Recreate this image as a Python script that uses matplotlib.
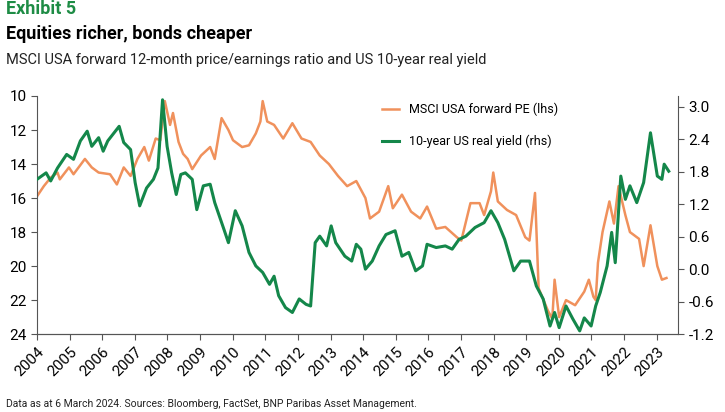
import matplotlib
matplotlib.use("Agg")
import matplotlib.pyplot as plt

plt.rcParams['font.family'] = ['Liberation Sans Narrow', 'Roboto', 'DejaVu Sans']

# MSCI USA forward PE (lhs, inverted)
pe_t = [2004.0, 2004.21, 2004.42, 2004.63, 2004.70, 2004.98, 2005.12, 2005.47, 2005.68, 2005.89,
        2006.24, 2006.45, 2006.66, 2006.87, 2007.08, 2007.29, 2007.43, 2007.64, 2007.78, 2007.92,
        2008.08, 2008.17, 2008.34, 2008.48, 2008.62, 2008.76, 2009.03, 2009.31, 2009.45, 2009.66,
        2009.87, 2010.01, 2010.29, 2010.50, 2010.71, 2010.85, 2010.92, 2011.06, 2011.27, 2011.55,
        2011.83, 2012.11, 2012.39, 2012.67, 2012.95, 2013.23, 2013.51, 2013.79, 2014.07, 2014.21,
        2014.49, 2014.77, 2014.91, 2015.19, 2015.47, 2015.75, 2015.96, 2016.24, 2016.52, 2016.87,
        2017.01, 2017.29, 2017.57, 2017.71, 2017.92, 2017.99, 2018.13, 2018.41, 2018.69, 2018.97,
        2019.10, 2019.27, 2019.38, 2019.66, 2019.80, 2019.87, 2020.01, 2020.22, 2020.50, 2020.78,
        2020.92, 2021.06, 2021.13, 2021.20, 2021.34, 2021.55, 2021.69, 2021.83, 2022.04, 2022.18,
        2022.46, 2022.60, 2022.81, 2023.02, 2023.16, 2023.30]
pe = [15.9, 15.3, 14.8, 14.5, 14.9, 14.2, 14.6, 13.7, 14.2, 14.5,
      14.6, 15.2, 14.2, 14.7, 13.7, 13.0, 13.8, 12.5, 12.6, 10.3,
      11.7, 11.0, 12.7, 13.4, 13.7, 14.3, 13.5, 13.0, 13.7, 11.3,
      12.0, 12.6, 13.0, 12.9, 12.2, 11.5, 10.3, 11.5, 11.7, 12.5,
      11.6, 12.5, 12.7, 13.5, 14.0, 14.7, 15.3, 15.0, 16.0, 17.2,
      16.8, 15.3, 16.6, 15.8, 16.8, 17.2, 16.5, 17.8, 17.7, 18.3,
      18.5, 16.3, 16.3, 17.0, 15.6, 14.5, 16.2, 16.7, 17.0, 18.3,
      18.5, 15.7, 21.3, 22.6, 23.1, 20.8, 23.0, 22.0, 22.3, 21.5,
      20.8, 21.8, 22.0, 19.8, 18.0, 16.2, 17.5, 15.3, 17.0, 18.0,
      18.4, 20.0, 17.6, 20.0, 20.8, 20.7]

# 10-year US real yield (rhs)
ry_t = [2004.00, 2004.28, 2004.42, 2004.63, 2004.91, 2005.12, 2005.33, 2005.54, 2005.68, 2005.89,
        2006.03, 2006.17, 2006.52, 2006.66, 2006.87, 2007.01, 2007.15, 2007.36, 2007.57, 2007.71,
        2007.85, 2007.99, 2008.13, 2008.27, 2008.41, 2008.55, 2008.76, 2008.90, 2009.10, 2009.31,
        2009.45, 2009.73, 2009.87, 2010.08, 2010.29, 2010.50, 2010.71, 2010.92, 2011.13, 2011.27,
        2011.41, 2011.62, 2011.83, 2012.04, 2012.25, 2012.39, 2012.53, 2012.67, 2012.88, 2013.02,
        2013.16, 2013.44, 2013.65, 2013.79, 2013.93, 2014.07, 2014.28, 2014.49, 2014.70, 2014.98,
        2015.19, 2015.40, 2015.61, 2015.82, 2015.96, 2016.24, 2016.52, 2016.73, 2016.94, 2017.15,
        2017.43, 2017.71, 2017.92, 2018.13, 2018.34, 2018.62, 2018.83, 2019.10, 2019.31, 2019.52,
        2019.73, 2019.87, 2020.01, 2020.22, 2020.43, 2020.64, 2020.78, 2020.99, 2021.13, 2021.27,
        2021.48, 2021.62, 2021.73, 2021.90, 2022.04, 2022.18, 2022.39, 2022.60, 2022.81, 2023.02,
        2023.16, 2023.23, 2023.37]
ry = [1.66, 1.78, 1.63, 1.87, 2.12, 2.03, 2.37, 2.55, 2.27, 2.43,
      2.18, 2.37, 2.64, 2.34, 2.21, 1.60, 1.17, 1.50, 1.66, 1.87,
      3.13, 2.27, 1.78, 1.38, 1.75, 1.78, 1.66, 1.10, 1.54, 1.57,
      1.23, 0.74, 0.49, 1.08, 0.80, 0.31, 0.06, -0.06, -0.28, -0.13,
      -0.49, -0.71, -0.80, -0.55, -0.65, -0.68, 0.49, 0.61, 0.43, 0.80,
      0.49, 0.24, 0.15, 0.46, 0.37, 0.00, 0.15, 0.43, 0.64, 0.71,
      0.24, 0.31, -0.03, 0.06, 0.46, 0.40, 0.43, 0.37, 0.55, 0.61,
      0.77, 0.86, 1.08, 0.86, 0.55, -0.03, 0.15, 0.15, -0.31, -0.55,
      -1.05, -0.80, -1.08, -0.68, -0.92, -1.14, -0.90, -1.05, -0.68, -0.43,
      0.06, 0.68, 0.12, 1.72, 1.29, 1.54, 1.23, 1.60, 2.52, 1.72,
      1.66, 1.94, 1.81]

years = list(range(2004, 2024))
orange = '#F0915C'
green = '#14874A'

fig = plt.figure(figsize=(7.25, 4.12), dpi=100)
ax = fig.add_axes([0.051, 0.189, 0.884, 0.578])
ax2 = ax.twinx()

l1, = ax.plot(pe_t, pe, color=orange, lw=1.8, label='MSCI USA forward PE (lhs)')
l2, = ax2.plot(ry_t, ry, color=green, lw=2.2, label='10-year US real yield (rhs)')

ax.set_ylim(24, 10)
ax.set_yticks(range(10, 25, 2))
ax2.set_ylim(-1.2, 3.2)
ax2.set_yticks([-1.2, -0.6, 0.0, 0.6, 1.2, 1.8, 2.4, 3.0])
ax2.set_yticklabels(['-1.2', '-0.6', '0.0', '0.6', '1.2', '1.8', '2.4', '3.0'])
ax.set_xlim(2004, 2023.65)
ax.set_xticks(years)
ax.set_xticklabels([str(y) for y in years], rotation=45, ha='right', rotation_mode='anchor')

for a in (ax, ax2):
    for s in ('top', 'right', 'left'):
        a.spines[s].set_visible(False)
    a.spines['bottom'].set_color('#555555')
    a.tick_params(labelsize=11, length=4, color='#555555')
ax2.spines['right'].set_visible(True)
ax2.spines['right'].set_color('#555555')
ax.spines['left'].set_visible(True)
ax.spines['left'].set_color('#555555')

ax.legend(handles=[l1, l2], loc='upper right', bbox_to_anchor=(0.83, 1.02), frameon=False,
          fontsize=9, handlelength=1.3, labelspacing=1.5)

fig.text(0.008, 0.965, 'Exhibit 5', color='#1E8C45', fontsize=13, fontweight='bold')
fig.text(0.008, 0.905, 'Equities richer, bonds cheaper', color='black', fontsize=13, fontweight='bold')
fig.text(0.008, 0.845, 'MSCI USA forward 12-month price/earnings ratio and US 10-year real yield',
         color='#222222', fontsize=10.5)
fig.text(0.008, 0.012, 'Data as at 6 March 2024. Sources: Bloomberg, FactSet, BNP Paribas Asset Management.',
         color='#222222', fontsize=7.5)

fig.savefig('out.png', dpi=100)
